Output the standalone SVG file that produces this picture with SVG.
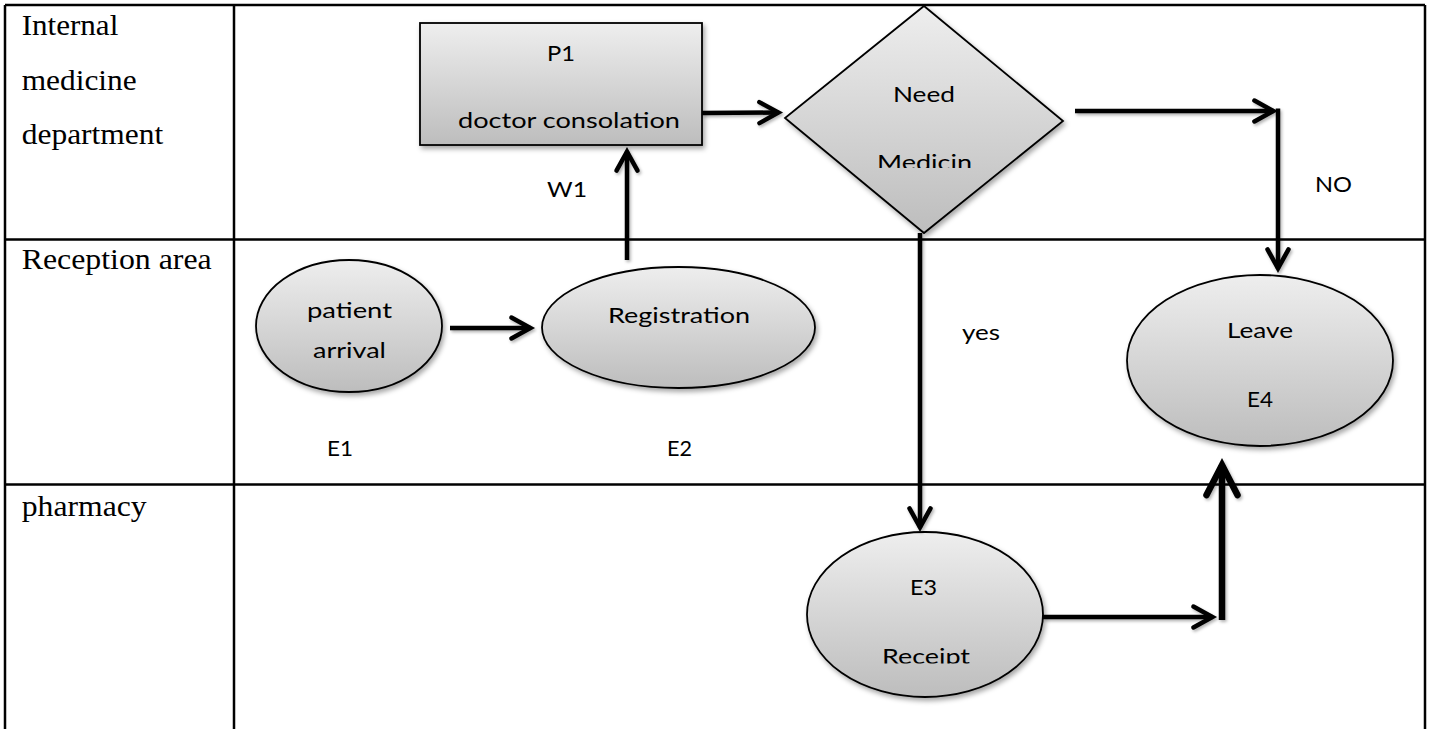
<svg xmlns="http://www.w3.org/2000/svg" width="1432" height="729" viewBox="0 0 1432 729">
  <style>
    .grid { stroke: #000; stroke-width: 2.5; fill: none; }
    .lane { font-family: "Liberation Serif", "Times New Roman", serif; font-size: 29px; fill: #000; }
    .lbl { font-family: Lato, "Open Sans", "Liberation Sans", sans-serif; font-size: 21px; fill: #000; }
    .shape { fill: url(#g); stroke: #000; stroke-width: 1.8; filter: url(#sh); }
    .conn { fill: none; stroke: #000; stroke-width: 4.5; }
    .thick { fill: none; stroke: #000; stroke-width: 6.5; }
  </style>
  <defs>
    <linearGradient id="g" x1="0" y1="0" x2="0" y2="1">
      <stop offset="0" stop-color="#eeeeee"/>
      <stop offset="1" stop-color="#bdbdbd"/>
    </linearGradient>
    <filter id="sh" x="-10%" y="-10%" width="130%" height="130%">
      <feDropShadow dx="2" dy="3" stdDeviation="2.5" flood-color="#000" flood-opacity="0.35"/>
    </filter>
    <filter id="shl" x="-10%" y="-10%" width="130%" height="130%">
      <feDropShadow dx="1.5" dy="2" stdDeviation="1.5" flood-color="#000" flood-opacity="0.3"/>
    </filter>
    <marker id="ah" markerUnits="userSpaceOnUse" orient="auto" overflow="visible" markerWidth="1" markerHeight="1" refX="0" refY="0">
      <path d="M-19,-10.5 L0,0 L-19,10.5" fill="none" stroke="#000" stroke-width="4.5" stroke-linecap="round"/>
    </marker>
    <marker id="ahb" markerUnits="userSpaceOnUse" orient="auto" overflow="visible" markerWidth="1" markerHeight="1" refX="0" refY="0">
      <path d="M-30,-15.5 L0,0 L-30,15.5" fill="none" stroke="#000" stroke-width="6.5" stroke-linecap="round"/>
    </marker>
    <clipPath id="clipMed"><rect x="850" y="140" width="150" height="28"/></clipPath>
    <clipPath id="clipRec"><rect x="860" y="635" width="130" height="28.5"/></clipPath>
  </defs>

  <rect width="1432" height="729" fill="#fff"/>

  <g id="table">
    <path class="grid" d="M5,5 H1425 M5,239.5 H1425 M5,484.5 H1425 M5,5 V729 M234,5 V729 M1425,5 V729"/>
    <text class="lane" x="21.7" y="35" textLength="96.6" lengthAdjust="spacingAndGlyphs">Internal</text>
    <text class="lane" x="21.7" y="90" textLength="115" lengthAdjust="spacingAndGlyphs">medicine</text>
    <text class="lane" x="21.7" y="144" textLength="141.6" lengthAdjust="spacingAndGlyphs">department</text>
    <text class="lane" x="21.7" y="269" textLength="190" lengthAdjust="spacingAndGlyphs">Reception area</text>
    <text class="lane" x="21.7" y="516" textLength="125" lengthAdjust="spacingAndGlyphs">pharmacy</text>
  </g>

  <g id="P1">
    <rect class="shape" x="420" y="23" width="282" height="122"/>
    <text class="lbl" x="547" y="61" textLength="28" lengthAdjust="spacingAndGlyphs">P1</text>
    <text class="lbl" x="458" y="128" textLength="222" lengthAdjust="spacingAndGlyphs">doctor consolation</text>
  </g>

  <g id="decision">
    <polygon class="shape" points="924,6 1063,121 924,233 785,118"/>
    <text class="lbl" x="893" y="102" textLength="62" lengthAdjust="spacingAndGlyphs">Need</text>
    <text class="lbl" x="877" y="169.5" textLength="95" lengthAdjust="spacingAndGlyphs" clip-path="url(#clipMed)">Medicin</text>
  </g>

  <g id="E1">
    <ellipse class="shape" cx="349" cy="326" rx="93" ry="66"/>
    <text class="lbl" x="307" y="318" textLength="85" lengthAdjust="spacingAndGlyphs">patient</text>
    <text class="lbl" x="313" y="358" textLength="73" lengthAdjust="spacingAndGlyphs">arrival</text>
    <text class="lbl" x="327" y="456" textLength="26" lengthAdjust="spacingAndGlyphs">E1</text>
  </g>

  <g id="E2">
    <ellipse class="shape" cx="678.5" cy="327.5" rx="136.5" ry="60.5"/>
    <text class="lbl" x="608" y="323" textLength="142" lengthAdjust="spacingAndGlyphs">Registration</text>
    <text class="lbl" x="667" y="456" textLength="25" lengthAdjust="spacingAndGlyphs">E2</text>
  </g>

  <g id="E4">
    <ellipse class="shape" cx="1260" cy="360.5" rx="133" ry="85.5"/>
    <text class="lbl" x="1227" y="338" textLength="66" lengthAdjust="spacingAndGlyphs">Leave</text>
    <text class="lbl" x="1247" y="407" textLength="26" lengthAdjust="spacingAndGlyphs">E4</text>
  </g>

  <g id="E3">
    <ellipse class="shape" cx="925" cy="614.5" rx="118" ry="82.5"/>
    <text class="lbl" x="910" y="595" textLength="27" lengthAdjust="spacingAndGlyphs">E3</text>
    <text class="lbl" x="882" y="664" textLength="88" lengthAdjust="spacingAndGlyphs" clip-path="url(#clipRec)">Receipt</text>
  </g>

  <g id="connectors" filter="url(#shl)">
    <path class="conn" d="M450,328 L530.4,328" marker-end="url(#ah)"/>
    <path class="conn" d="M627,260 L627,151.6" marker-end="url(#ah)"/>
    <path class="conn" d="M702,113 L778.4,112.5" marker-end="url(#ah)"/>
    <path class="conn" d="M1075,111 L1273.4,111" marker-end="url(#ah)"/>
    <path class="conn" d="M1278,108.5 L1278,268.4" marker-end="url(#ah)"/>
    <path class="conn" d="M920,233 L920,527.4" marker-end="url(#ah)"/>
    <path class="conn" d="M1043,617 L1212.4,617" marker-end="url(#ah)"/>
    <path class="thick" d="M1222,620 L1222,465" marker-end="url(#ahb)"/>
  </g>

  <g id="connector-labels">
    <text class="lbl" x="547" y="197" textLength="40" lengthAdjust="spacingAndGlyphs">W1</text>
    <text class="lbl" x="1315" y="192" textLength="37" lengthAdjust="spacingAndGlyphs">NO</text>
    <text class="lbl" x="962" y="340" textLength="38" lengthAdjust="spacingAndGlyphs">yes</text>
  </g>
</svg>
